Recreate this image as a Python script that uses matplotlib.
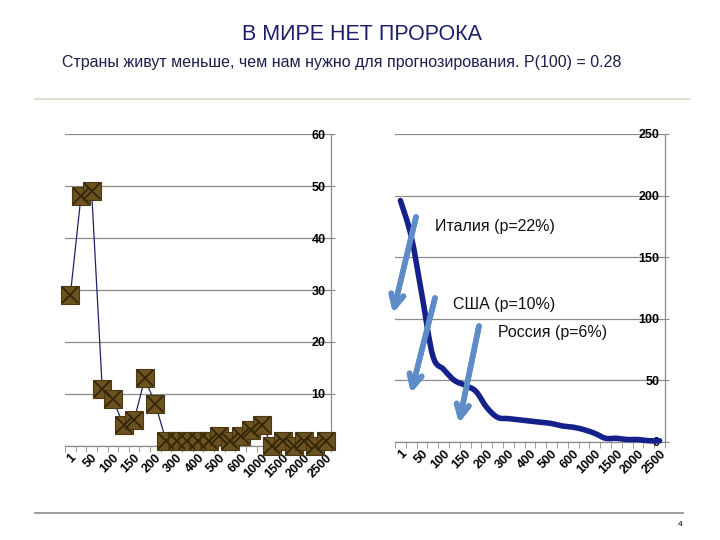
import numpy as np
import matplotlib.pyplot as plt
from matplotlib.path import Path
from matplotlib.patches import PathPatch

plt.rcParams['font.family'] = ['Liberation Sans', 'DejaVu Sans']

# Age groups (years), only every second one is labelled on the axis
tick_labels = ['1', '50', '100', '150', '200', '300', '400', '500', '600',
               '1000', '1500', '2000', '2500']
n_groups = 25

# Number of countries in each age group
countries = [29, 48, 49, 11, 9, 4, 5, 13, 8, 1, 1, 1, 1, 1, 2, 1, 2, 3, 4,
             0, 1, 0, 1, 0, 1]

# Number of countries that are at least this old
surviving = [196, 167, 119, 70, 59, 50, 46, 41, 28, 20, 19, 18, 17, 16, 15,
             13, 12, 10, 7, 3, 3, 2, 2, 1, 1]

# Annotations on the right chart
notes = ['Италия (p=22%)', 'США (p=10%)', 'Россия (p=6%)']

W, H = 720, 540
fig = plt.figure(figsize=(7.2, 5.4), dpi=100)


def px(x, y):
    # pixel position (top-left origin) -> figure fraction
    return x / W, 1 - y / H


grid_c = '#8c8c8c'


def style_axes(ax, ymax, ystep):
    x = np.arange(n_groups)
    ax.set_xlim(-0.5, n_groups - 0.5)
    ax.set_ylim(0, ymax)
    ax.set_yticks(np.arange(0, ymax + 1, ystep))
    ax.yaxis.tick_right()
    ax.grid(axis='y', color=grid_c, lw=0.9)
    ax.set_axisbelow(True)
    for s in ['top', 'left']:
        ax.spines[s].set_visible(False)
    for s in ['right', 'bottom']:
        ax.spines[s].set_color(grid_c)
        ax.spines[s].set_linewidth(0.9)
    ax.tick_params(axis='y', length=3, color=grid_c, pad=-7,
                   labelsize=9)
    for lab in ax.get_yticklabels():
        lab.set_ha('right')
        lab.set_fontweight('bold')
    ax.set_xticks(x[::2])
    ax.set_xticklabels(tick_labels, rotation=45, ha='right',
                       rotation_mode='anchor', fontsize=9,
                       fontweight='bold')
    ax.tick_params(axis='x', length=0, pad=4)
    ax.set_xticks(np.arange(-0.5, n_groups), minor=True)
    ax.tick_params(axis='x', which='minor', length=4, color=grid_c)
    ax.patch.set_alpha(0)


# Left chart: distribution of country ages
ax1 = fig.add_axes([65 / W, 1 - 446 / H, 266 / W, 312 / H])
style_axes(ax1, 60, 10)
x = np.arange(n_groups)
ax1.plot(x, countries, color='#1c2566', lw=0.9, zorder=3)
ax1.plot(x, countries, ls='none', marker='s', ms=13.5, mfc='#6b5220',
         mec='#4a3810', mew=0.8, zorder=4, clip_on=False)
ax1.plot(x, countries, ls='none', marker='x', ms=11, mec='#33260a',
         mew=1.3, zorder=5, clip_on=False)

# Right chart: countries surviving, smooth line
ax2 = fig.add_axes([395 / W, 1 - 442 / H, 270 / W, 308 / H])
style_axes(ax2, 250, 50)
pts = np.column_stack([x, surviving]).astype(float)
verts = [pts[0]]
codes = [Path.MOVETO]
for i in range(len(pts) - 1):
    p0 = pts[max(i - 1, 0)]
    p1 = pts[i]
    p2 = pts[i + 1]
    p3 = pts[min(i + 2, len(pts) - 1)]
    verts += [p1 + (p2 - p0) / 6, p2 - (p3 - p1) / 6, p2]
    codes += [Path.CURVE4] * 3
ax2.add_patch(PathPatch(Path(verts, codes), fill=False, ec='#15208a',
                        lw=4, capstyle='round', joinstyle='round',
                        zorder=3, clip_on=False))

# Arrows and notes
arrow_c = '#5e8cc8'
arrows = [((416, 217), (393, 313)), ((435, 298), (411, 393)),
          ((479, 326), (459, 423))]
for (s, e) in arrows:
    fig.add_artist(plt.annotate('', xy=px(*e), xytext=px(*s),
                                xycoords='figure fraction',
                                arrowprops=dict(arrowstyle='->,head_length=0.9,head_width=0.45',
                                                color=arrow_c, lw=4,
                                                shrinkA=0, shrinkB=0)))
note_pos = [(435, 227), (453, 304), (498, 332)]
for t, (tx, ty) in zip(notes, note_pos):
    fig.text(*px(tx, ty), t, ha='left', va='center', fontsize=11.5,
             color='#111111')

# Header
fig.text(*px(362, 35), 'В МИРЕ НЕТ ПРОРОКА', ha='center', va='center',
         fontsize=15.5, color='#1b1f6b')
fig.text(*px(62, 63), 'Страны живут меньше, чем нам нужно для прогнозирования. P(100) = 0.28',
         ha='left', va='center', fontsize=11.5, color='#1b1f4b')
fig.add_artist(plt.Line2D([35 / W, 690 / W], [1 - 99 / H] * 2,
                          color='#dcd8c4', lw=1.2))
fig.add_artist(plt.Line2D([35 / W, 683 / W], [1 - 513 / H] * 2,
                          color='#8a8a8a', lw=1.2))
fig.text(*px(680, 525), '4', ha='center', va='center', fontsize=6)

fig.savefig('out.png', dpi=100)
